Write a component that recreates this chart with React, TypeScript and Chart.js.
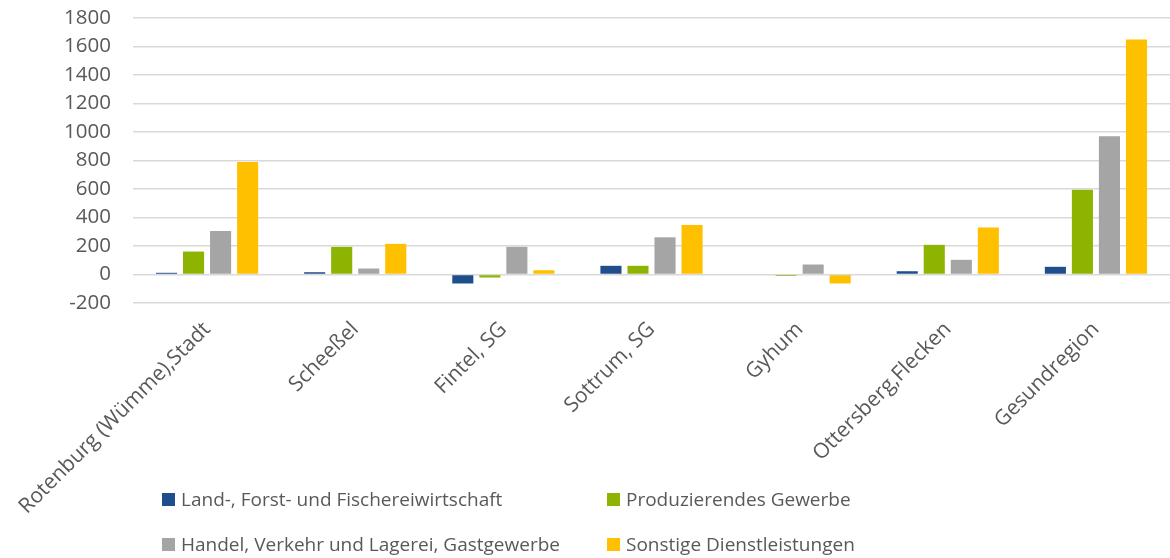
import React, { useEffect, useRef } from "react";
import { Chart, registerables } from "chart.js";

Chart.register(...registerables);

const categories = [
  "Rotenburg (Wümme),Stadt",
  "Scheeßel",
  "Fintel, SG",
  "Sottrum, SG",
  "Gyhum",
  "Ottersberg,Flecken",
  "Gesundregion",
];
const seriesNames = [
  "Land-, Forst- und Fischereiwirtschaft",
  "Produzierendes Gewerbe",
  "Handel, Verkehr und Lagerei, Gastgewerbe",
  "Sonstige Dienstleistungen",
];
const landForst = [12, 16, -63, 61, 0, 23, 54];
const produzierend = [161, 194, -21, 61, -10, 208, 595];
const handel = [306, 42, 194, 261, 70, 103, 971];
const sonstige = [789, 215, 30, 348, -63, 329, 1650];
const colors = ["#1F4E8C", "#8DB400", "#A5A5A5", "#FFC000"];
const yMin = -200;
const yMax = 1800;
const yStep = 200;

const FONT = "'Open Sans', sans-serif";
const TEXT = "#595959";

export default function App() {
  const ref = useRef<HTMLCanvasElement | null>(null);

  useEffect(() => {
    document.body.style.margin = "0";
    const canvas = ref.current;
    if (!canvas) return;
    const values = [landForst, produzierend, handel, sonstige];
    const chart = new Chart(canvas, {
      type: "bar",
      data: {
        labels: categories,
        datasets: seriesNames.map((name, i) => ({
          label: name,
          data: values[i],
          backgroundColor: colors[i],
          borderWidth: 0,
          categoryPercentage: 0.73,
          barPercentage: 0.78,
        })),
      },
      options: {
        animation: false,
        responsive: false,
        maintainAspectRatio: false,
        layout: { padding: { top: 18, right: 0, bottom: 0, left: 0 } },
        plugins: {
          legend: { display: false },
          tooltip: { enabled: false },
        },
        scales: {
          x: {
            grid: { display: false, drawTicks: false },
            border: { display: false },
            ticks: {
              color: TEXT,
              font: { family: FONT, size: 21 },
              minRotation: 45,
              maxRotation: 45,
              padding: 14,
              autoSkip: false,
            },
            afterFit: (scale: any) => {
              scale.height = 255;
              scale.paddingTop = 0;
              scale.paddingBottom = 0;
              scale.paddingLeft = 0;
              scale.paddingRight = 0;
            },
          },
          y: {
            min: yMin,
            max: yMax,
            grid: { color: "#D9D9D9", lineWidth: 1.5, drawTicks: false },
            border: { display: false },
            ticks: {
              stepSize: yStep,
              autoSkip: false,
              color: TEXT,
              font: { family: FONT, size: 20.5 },
              padding: 22,
              callback: (v: any) => String(v),
            },
            afterFit: (scale: any) => {
              scale.width = 133;
              scale.paddingTop = 0;
              scale.paddingBottom = 0;
            },
          },
        },
      },
    });
    return () => chart.destroy();
  }, []);

  const legendItem = (i: number, left: number, top: number) => (
    <div
      key={i}
      style={{
        position: "absolute",
        left,
        top,
        height: 26,
        display: "flex",
        alignItems: "center",
        fontFamily: FONT,
        fontSize: 19,
        lineHeight: "26px",
        color: TEXT,
        whiteSpace: "nowrap",
      }}
    >
      <span
        style={{
          display: "inline-block",
          width: 13,
          height: 13,
          background: colors[i],
          marginRight: 6,
        }}
      />
      {seriesNames[i]}
    </div>
  );

  return (
    <div style={{ position: "relative", width: 1170, height: 558 }}>
      <canvas ref={ref} width={1170} height={558} style={{ display: "block" }} />
      {legendItem(0, 162, 486)}
      {legendItem(1, 607, 486)}
      {legendItem(2, 162, 531)}
      {legendItem(3, 607, 531)}
    </div>
  );
}
